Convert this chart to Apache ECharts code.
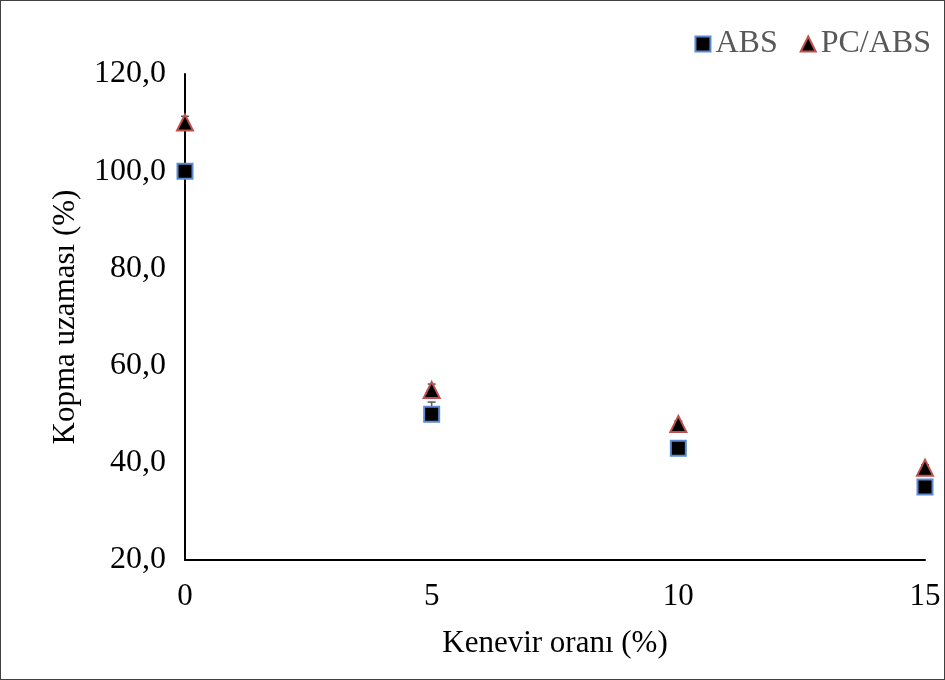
<!DOCTYPE html>
<html>
<head>
    <meta charset="utf-8">
    <title>Kopma uzaması</title>
    <script src="https://cdn.jsdelivr.net/npm/echarts@6/dist/echarts.min.js"></script>
    <style>
        html, body { margin: 0; padding: 0; background: #fff; }
        #chart { width: 945px; height: 680px; box-sizing: border-box; border: 1px solid #404040; }
    </style>
</head>
<body>
<div id="chart"></div>
<script>
    // Kenevir oranı (%)
    var kenevir = [0, 5, 10, 15];
    var absValues = [100, 50, 43, 35];
    var pcAbsValues = [110, 55, 48, 39];
    // hata çubukları, yalnız artı yönde (tahmini)
    var absErr = [0.5, 2.5, 0.8, 0.5];
    var pcAbsErr = [1.3, 1.2, 0.6, 0.6];

    var font = '"Liberation Serif", "Times New Roman", serif';

    function pairs(vals) {
        return kenevir.map(function (x, i) { return [x, vals[i]]; });
    }

    function errData(vals, errs) {
        return kenevir.map(function (x, i) { return [x, vals[i], vals[i] + errs[i]]; });
    }

    function renderErr(params, api) {
        var x = api.value(0);
        var lo = api.coord([x, api.value(1)]);
        var hi = api.coord([x, api.value(2)]);
        var w = 4;
        var style = { stroke: '#595959', lineWidth: 1.5 };
        return {
            type: 'group',
            children: [
                { type: 'line', shape: { x1: hi[0], y1: hi[1], x2: lo[0], y2: lo[1] }, style: style },
                { type: 'line', shape: { x1: hi[0] - w, y1: hi[1], x2: hi[0] + w, y2: hi[1] }, style: style }
            ]
        };
    }

    var chart = echarts.init(document.getElementById('chart'));
    chart.setOption({
        animation: false,
        textStyle: { fontFamily: font },
        grid: { left: 184, right: 19, top: 73, bottom: 119 },
        legend: {
            right: 8,
            top: 22,
            itemWidth: 15,
            itemHeight: 15,
            itemGap: 22,
            textStyle: { fontFamily: font, fontSize: 32, color: '#595959' },
            data: ['ABS', 'PC/ABS']
        },
        xAxis: {
            type: 'value',
            min: 0,
            max: 15,
            interval: 5,
            name: 'Kenevir oranı (%)',
            nameLocation: 'middle',
            nameGap: 68,
            nameTextStyle: { fontFamily: font, fontSize: 31, color: '#000' },
            axisLine: { lineStyle: { color: '#000', width: 2 } },
            axisTick: { show: false },
            splitLine: { show: false },
            axisLabel: { fontFamily: font, fontSize: 31, color: '#000', margin: 21 }
        },
        yAxis: {
            type: 'value',
            min: 20,
            max: 120,
            interval: 20,
            name: 'Kopma uzaması (%)',
            nameLocation: 'middle',
            nameGap: 104,
            nameTextStyle: { fontFamily: font, fontSize: 31, color: '#000' },
            axisLine: { show: true, lineStyle: { color: '#000', width: 2 } },
            axisTick: { show: false },
            splitLine: { show: false },
            axisLabel: {
                fontFamily: font, fontSize: 32, color: '#000', margin: 19,
                formatter: function (v) { return v.toFixed(1).replace('.', ','); }
            }
        },
        series: [
            {
                type: 'custom',
                renderItem: renderErr,
                data: errData(absValues, absErr),
                z: 1,
                silent: true
            },
            {
                type: 'custom',
                renderItem: renderErr,
                data: errData(pcAbsValues, pcAbsErr),
                z: 1,
                silent: true
            },
            {
                name: 'ABS',
                type: 'scatter',
                symbol: 'rect',
                symbolSize: 15,
                data: pairs(absValues),
                itemStyle: { color: '#000', borderColor: '#5B8BD0', borderWidth: 2, opacity: 1 },
                z: 3
            },
            {
                name: 'PC/ABS',
                type: 'scatter',
                symbol: 'triangle',
                symbolSize: 16,
                data: pairs(pcAbsValues),
                itemStyle: { color: '#000', borderColor: '#C0504D', borderWidth: 2, opacity: 1 },
                z: 3
            }
        ]
    });
</script>
</body>
</html>
